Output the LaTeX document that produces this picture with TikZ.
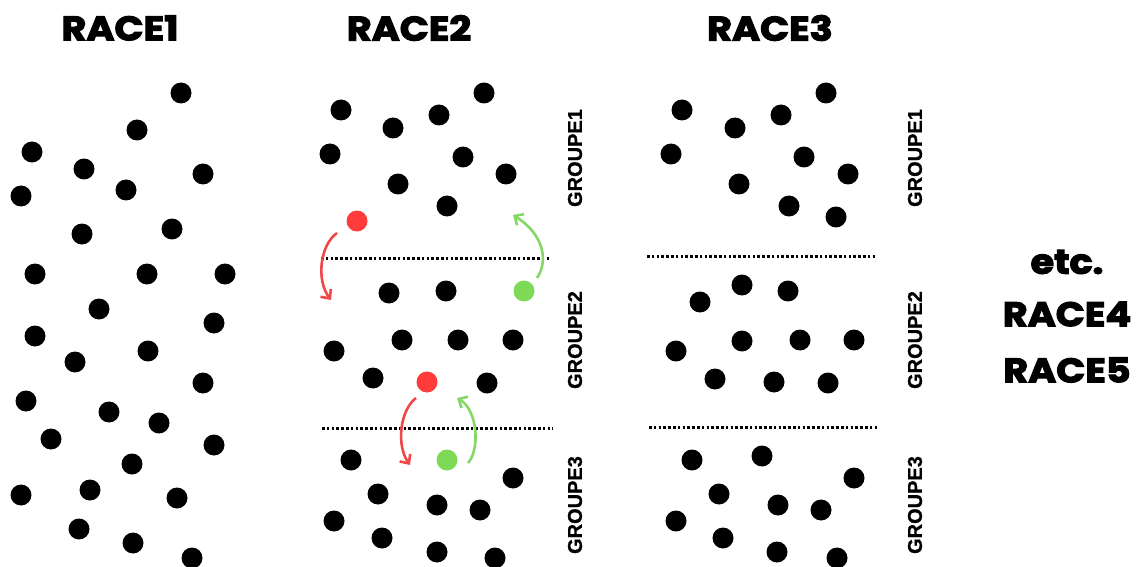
\documentclass[tikz,border=0pt]{standalone}
\usepackage{fontspec}
\usetikzlibrary{arrows.meta}
\newfontfamily\titlefont{Poppins}[FakeStretch=1.12,BoldFeatures={FakeBold=3.5}]
\newfontfamily\groupfont{Liberation Sans}[BoldFeatures={FakeBold=0.8}]
\definecolor{dotred}{HTML}{FF3B3B}
\definecolor{dotgreen}{HTML}{7ED957}
\definecolor{arrred}{HTML}{F04848}
\definecolor{arrgreen}{HTML}{84D865}
\tikzset{
  dot/.style={circle, fill=black, minimum size=21pt, inner sep=0pt},
  race/.style={font=\titlefont\bfseries\fontsize{34}{34}\selectfont, inner sep=0pt},
  groupe/.style={font=\groupfont\bfseries\fontsize{20}{20}\selectfont, rotate=90, inner sep=0pt},
  sep/.style={line width=3pt, dash pattern=on 2.6pt off 2.2pt},
  swap/.style={line width=2.6pt, -{Straight Barb[length=7pt,width=13pt]}},
}
\begin{document}
\begin{tikzpicture}[x=1pt, y=-1pt]
  \useasboundingbox (0,0) rectangle (1136,567);

  % titles
  \node[race] (race1) at (120,28) {RACE1};
  \node[race] (race2) at (409,28) {RACE2};
  \node[race] (race3) at (770,28) {RACE3};
  \node[race] (etc)   at (1067,262) {etc.};
  \node[race] (race4) at (1067,314) {RACE4};
  \node[race] (race5) at (1067,370) {RACE5};

  % race 1: one big group
  \foreach \p in {(181,93),(137,130),(32,152),(84,169),(203,174),(21,196),(126,190),
      (82,234),(172,229),(35,274),(147,274),(225,274),(99,309),(214,323),(35,336),
      (75,362),(148,351),(203,383),(26,401),(109,412),(159,423),(51,439),(214,445),
      (132,464),(21,495),(90,490),(177,498),(79,529),(133,543),(192,558)}
    \node[dot] at \p {};

  % race 2
  \foreach \p in {(341,110),(393,128),(439,115),(484,93),(330,154),(463,157),(398,184),
      (506,174),(447,206),
      (389,293),(446,291),(334,351),(402,340),(458,340),(513,340),(373,378),(487,383),
      (351,460),(513,478),(378,494),(437,505),(480,510),(334,521),(382,538),(437,552),(495,558)}
    \node[dot] at \p {};
  \node[dot, fill=dotred]   (red1)   at (357,221) {};
  \node[dot, fill=dotgreen] (green1) at (524,291) {};
  \node[dot, fill=dotred]   (red2)   at (427,382) {};
  \node[dot, fill=dotgreen] (green2) at (447,460) {};

  \coordinate (sep2a) at (321,258);
  \coordinate (sep2b) at (549,258);
  \coordinate (sep2c) at (322,428);
  \coordinate (sep2d) at (553,428);
  \draw[sep] (sep2a) -- (sep2b);
  \draw[sep] (sep2c) -- (sep2d);

  \coordinate (r1a) at (337,233);  \coordinate (r1b) at (331,300);
  \coordinate (g1a) at (537,278);  \coordinate (g1b) at (513,215);
  \coordinate (r2a) at (416,398);  \coordinate (r2b) at (410,465);
  \coordinate (g2a) at (468,463);  \coordinate (g2b) at (457,398);
  \draw[swap, arrred]   (r1a) .. controls (320,245) and (316,280) .. (r1b);
  \draw[swap, arrgreen] (g1a) .. controls (548,262) and (545,235) .. (g1b);
  \draw[swap, arrred]   (r2a) .. controls (400,410) and (396,445) .. (r2b);
  \draw[swap, arrgreen] (g2a) .. controls (480,450) and (478,410) .. (g2b);

  \node[groupe] (grp21) at (575,158) {GROUPE1};
  \node[groupe] (grp22) at (575,340) {GROUPE2};
  \node[groupe] (grp23) at (575,505) {GROUPE3};

  % race 3
  \foreach \p in {(682,110),(735,128),(781,115),(826,93),(671,154),(804,157),(739,184),
      (848,174),(789,206),(836,217),
      (742,285),(788,291),(700,302),(676,351),(742,341),(800,340),(854,340),(715,379),
      (774,382),(828,383),
      (692,460),(762,456),(854,478),(719,494),(778,505),(821,510),(676,521),(723,538),
      (777,552),(837,558)}
    \node[dot] at \p {};

  \coordinate (sep3a) at (647,256);
  \coordinate (sep3b) at (876,256);
  \coordinate (sep3c) at (649,427);
  \coordinate (sep3d) at (879,427);
  \draw[sep] (sep3a) -- (sep3b);
  \draw[sep] (sep3c) -- (sep3d);

  \node[groupe] (grp31) at (915,158) {GROUPE1};
  \node[groupe] (grp32) at (915,340) {GROUPE2};
  \node[groupe] (grp33) at (915,505) {GROUPE3};
\end{tikzpicture}
\end{document}
